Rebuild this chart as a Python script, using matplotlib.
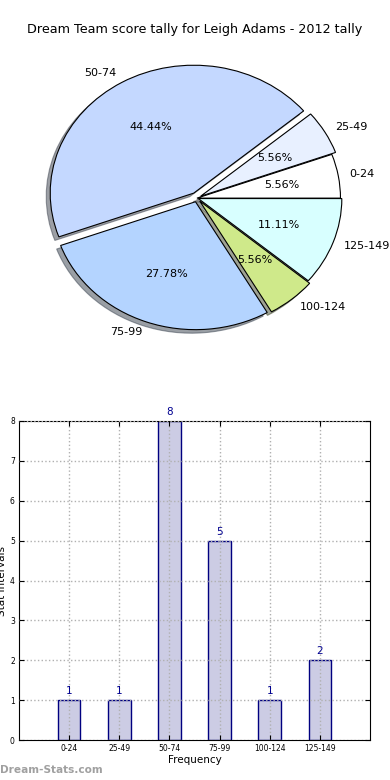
import matplotlib
matplotlib.use("Agg")
import matplotlib.pyplot as plt
import numpy as np

# data
categories = ["0-24", "25-49", "50-74", "75-99", "100-124", "125-149"]
counts = [1, 1, 8, 5, 1, 2]
pie_colors = ["#ffffff", "#e8f0ff", "#c4d8ff", "#b4d4ff", "#cfe98a", "#d8ffff"]
explode = [0, 0.03, 0.045, 0.03, 0.03, 0.01]
title = "Dream Team score tally for Leigh Adams - 2012 tally"

fig = plt.figure(figsize=(3.9, 7.8), dpi=100)

# pie (upper half)
ax1 = fig.add_axes([0.045, 0.541, 0.92, 0.41])
wedges, texts, autotexts = ax1.pie(counts, labels=categories, colors=pie_colors,
                                   explode=explode, autopct='%.2f%%', shadow=True,
                                   startangle=0, labeldistance=1.08, pctdistance=0.6,
                                   wedgeprops=dict(edgecolor='black', linewidth=0.8),
                                   textprops=dict(fontsize=8))
ax1.set_aspect('auto')
fig.text(0.5, 1 - 30 / 780, title, ha='center', va='center', fontsize=9.2)

# bar chart (lower half)
ax2 = fig.add_axes([19 / 390, 40 / 780, 351 / 390, 319 / 780])
x = np.arange(len(categories))
bars = ax2.bar(x, counts, width=0.45, color='#ccccE4', edgecolor='#000080', linewidth=1)
for xi, c in zip(x, counts):
    ax2.text(xi, c + 0.1, str(c), ha='center', va='bottom', color='#000090', fontsize=7.5)
ax2.set_xlim(-1, 6)
ax2.set_ylim(0, 8)
ax2.set_xticks(x)
ax2.set_xticklabels(categories, fontsize=5.5)
ax2.set_yticks(range(9))
ax2.tick_params(axis='y', labelsize=5.5, direction='in', right=True, pad=3)
ax2.tick_params(axis='x', direction='in', top=True, pad=3)
ax2.grid(True, linestyle=':', color='#b0b0b0', linewidth=1)
ax2.set_axisbelow(False)
ax2.set_xlabel("Frequency", fontsize=7.5, labelpad=1)
ax2.set_ylabel("Stat Intervals", fontsize=7.5, labelpad=2)

fig.text(0.0, 1 - 770 / 780, "Dream-Stats.com", fontsize=7.6, color='#a0a0a0',
         fontweight='bold', ha='left', va='center')

fig.savefig("out.png", dpi=100)
